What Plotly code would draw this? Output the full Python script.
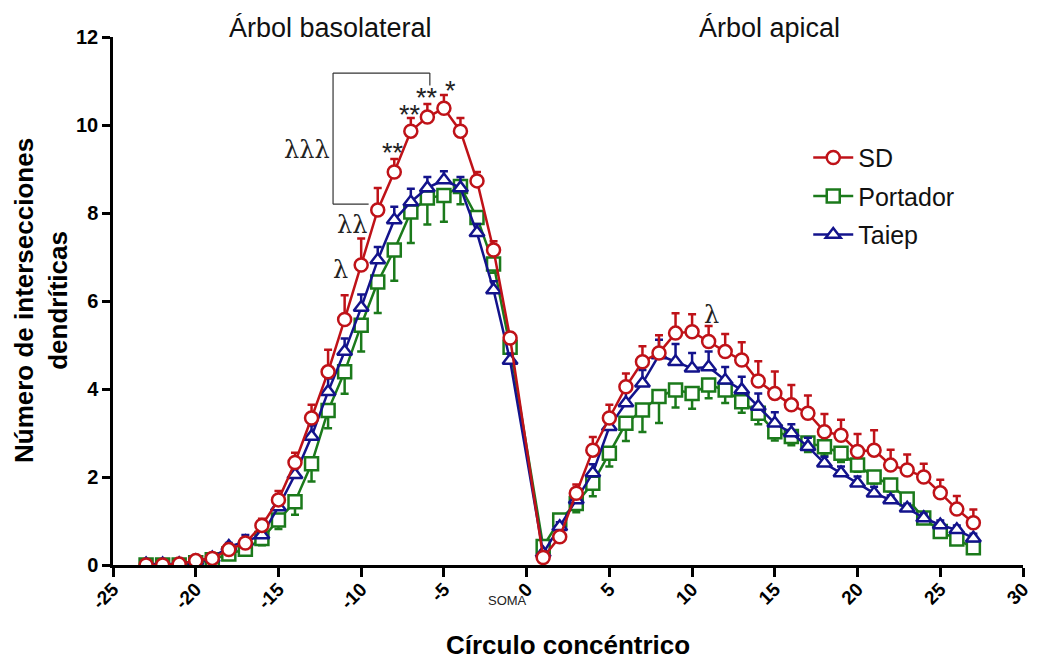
import plotly.graph_objects as go

# ---- data ----
circles = list(range(-23, 0)) + list(range(1, 28))

sd = [0.0, 0.0, 0.02, 0.1, 0.15, 0.35, 0.5, 0.9, 1.48, 2.33, 3.34, 4.39, 5.58, 6.82, 8.07, 8.93, 9.86, 10.18, 10.38, 9.86, 8.73, 7.16, 5.16,
      0.17, 0.64, 1.63, 2.61, 3.34, 4.05, 4.62, 4.82, 5.27, 5.3, 5.08, 4.85, 4.66, 4.18, 3.9, 3.64, 3.45, 3.03, 2.95, 2.58, 2.61, 2.27, 2.16, 2.0, 1.64, 1.27, 0.96]
sd_err = [0.0, 0.0, 0.02, 0.05, 0.05, 0.1, 0.1, 0.15, 0.2, 0.22, 0.3, 0.5, 0.55, 0.6, 0.5, 0.3, 0.3, 0.3, 0.3, 0.3, 0.2, 0.2, 0.12,
          0.05, 0.1, 0.2, 0.3, 0.3, 0.3, 0.35, 0.4, 0.45, 0.4, 0.35, 0.4, 0.4, 0.45, 0.5, 0.45, 0.4, 0.4, 0.35, 0.4, 0.45, 0.35, 0.35, 0.3, 0.3, 0.3, 0.3]

portador = [0.0, 0.0, 0.0, 0.05, 0.12, 0.25, 0.36, 0.6, 1.02, 1.44, 2.3, 3.51, 4.39, 5.45, 6.43, 7.16, 8.02, 8.34, 8.4, 8.6, 7.9, 6.84, 4.95,
            0.42, 1.02, 1.4, 1.86, 2.54, 3.22, 3.52, 3.83, 3.98, 3.9, 4.09, 3.98, 3.71, 3.45, 3.03, 2.92, 2.77, 2.69, 2.54, 2.27, 2.0, 1.82, 1.5, 1.07, 0.76, 0.59, 0.39]
portador_err = [0.0, 0.0, 0.0, 0.03, 0.05, 0.08, 0.1, 0.15, 0.2, 0.3, 0.4, 0.4, 0.5, 0.6, 0.7, 0.7, 0.7, 0.6, 0.6, 0.4, 0.3, 0.2, 0.15,
                0.05, 0.1, 0.2, 0.3, 0.3, 0.4, 0.5, 0.6, 0.4, 0.35, 0.3, 0.3, 0.25, 0.25, 0.2, 0.2, 0.2, 0.2, 0.2, 0.15, 0.15, 0.15, 0.12, 0.1, 0.1, 0.1, 0.1]

taiep = [0.02, 0.02, 0.03, 0.09, 0.16, 0.42, 0.53, 0.68, 1.32, 2.05, 2.92, 3.94, 4.85, 5.85, 6.93, 7.84, 8.25, 8.57, 8.75, 8.57, 7.55, 6.25, 4.65,
         0.27, 0.87, 1.48, 2.09, 3.14, 3.68, 4.13, 4.77, 4.62, 4.47, 4.5, 4.2, 3.98, 3.6, 3.22, 3.0, 2.69, 2.31, 2.09, 1.86, 1.63, 1.48, 1.29, 1.07, 0.91, 0.8, 0.61]
taiep_err = [0.0, 0.0, 0.0, 0.03, 0.05, 0.08, 0.15, 0.12, 0.2, 0.2, 0.25, 0.3, 0.3, 0.3, 0.3, 0.3, 0.3, 0.25, 0.2, 0.25, 0.2, 0.2, 0.15,
             0.05, 0.1, 0.15, 0.2, 0.25, 0.3, 0.3, 0.35, 0.4, 0.35, 0.35, 0.3, 0.3, 0.3, 0.25, 0.2, 0.2, 0.15, 0.15, 0.15, 0.15, 0.1, 0.1, 0.1, 0.1, 0.1, 0.1]

x_ticks = [-25, -20, -15, -10, -5, 0, 5, 10, 15, 20, 25, 30]
y_ticks = [0, 2, 4, 6, 8, 10, 12]

RED = "#bf1218"
GREEN = "#1b7a1b"
BLUE = "#13138c"

FONT = "Liberation Sans, Arial, sans-serif"

fig = go.Figure()

def add_series(name, y, err, color, symbol, up, rank):
    zeros = [0] * len(err)
    fig.add_trace(go.Scatter(
        x=circles, y=y, name=name, mode="lines+markers",
        legendgroup=name,
        line=dict(color=color, width=2.5),
        marker=dict(symbol=symbol, size=13, color="white",
                    line=dict(color=color, width=2.5)),
        error_y=dict(type="data", symmetric=False,
                     array=err if up else zeros,
                     arrayminus=zeros if up else err,
                     color=color, thickness=2.5, width=4),
        legendrank=rank,
    ))

add_series("Portador", portador, portador_err, GREEN, "square", False, 2)
add_series("Taiep", taiep, taiep_err, BLUE, "triangle-up", True, 3)
add_series("SD", sd, sd_err, RED, "circle", True, 1)

# bracket
bx_left, bx_right, bx_short = -11.7, -5.85, -9.55
by_top, by_tick, by_bottom = 11.18, 10.9, 8.2
line_style = dict(color="#333333", width=1.2)
fig.add_shape(type="line", x0=bx_left, x1=bx_right, y0=by_top, y1=by_top, line=line_style)
fig.add_shape(type="line", x0=bx_right, x1=bx_right, y0=by_top, y1=by_tick, line=line_style)
fig.add_shape(type="line", x0=bx_left, x1=bx_left, y0=by_top, y1=by_bottom, line=line_style)
fig.add_shape(type="line", x0=bx_left, x1=bx_short, y0=by_bottom, y1=by_bottom, line=line_style)

annots = [
    dict(x=-8.08, y=9.36, text="**", size=27),
    dict(x=-7.05, y=10.23, text="**", size=27),
    dict(x=-6.03, y=10.62, text="**", size=27),
    dict(x=-4.6, y=10.78, text="*", size=27),
    dict(x=-13.3, y=9.43, text="λλλ", size=24),
    dict(x=-10.56, y=7.73, text="λλ", size=24),
    dict(x=-11.28, y=6.7, text="λ", size=24),
    dict(x=11.19, y=5.68, text="λ", size=24),
]
for a in annots:
    fig.add_annotation(x=a["x"], y=a["y"], text=a["text"], showarrow=False,
                       font=dict(family="DejaVu Serif, serif" if "λ" in a["text"] else FONT,
                                 size=a["size"], color="#222222"))

fig.add_annotation(x=-11.85, y=1.0, yref="paper", yshift=9, yanchor="middle",
                   text="Árbol basolateral", showarrow=False,
                   font=dict(family=FONT, size=27, color="#111111"))
fig.add_annotation(x=14.7, y=1.0, yref="paper", yshift=9, yanchor="middle",
                   text="Árbol apical", showarrow=False,
                   font=dict(family=FONT, size=27, color="#111111"))
fig.add_annotation(x=-1.15, y=0, xref="x", yref="paper", yshift=-35, yanchor="middle",
                   text="SOMA", showarrow=False,
                   font=dict(family=FONT, size=13, color="#222222"))

# axis titles as annotations (exact placement)
fig.add_annotation(x=0.5, xref="paper", xanchor="center", y=0, yref="paper", yshift=-80,
                   yanchor="middle",
                   text="Círculo concéntrico", showarrow=False,
                   font=dict(family=FONT, size=26, color="black", weight="bold"))
fig.add_annotation(x=0, xref="paper", xanchor="center", xshift=-72, y=0.5, yref="paper",
                   text="Número de intersecciones<br>dendríticas", showarrow=False,
                   textangle=-90,
                   font=dict(family=FONT, size=26, color="black", weight="bold"))

fig.update_xaxes(range=[-25, 30], tickvals=x_ticks, ticktext=[str(v) for v in x_ticks],
                 tickangle=-45, showgrid=False, zeroline=False, automargin=False,
                 showline=True, linecolor="black", linewidth=2.5,
                 ticks="outside", ticklen=9, tickwidth=2.5, tickcolor="black",
                 ticklabelstandoff=-6,
                 tickfont=dict(family=FONT, size=19, color="black", weight="bold"))
fig.update_yaxes(range=[0, 12], tickvals=y_ticks, showgrid=False, zeroline=False, automargin=False,
                 showline=True, linecolor="black", linewidth=2.5,
                 ticks="outside", ticklen=8, tickwidth=2.5, tickcolor="black",
                 tickfont=dict(family=FONT, size=20, color="black", weight="bold"))

# page body has an 8px margin: figure is sized to fit inside the 1039x660 window
fig.update_layout(
    width=1031, height=652,
    margin=dict(l=105, r=16, t=29, b=95),
    plot_bgcolor="white", paper_bgcolor="white",
    showlegend=True,
    legend=dict(x=0.764, y=0.815, xanchor="left", yanchor="top",
                font=dict(family=FONT, size=25, color="#111111"),
                bgcolor="rgba(0,0,0,0)", tracegroupgap=3, itemwidth=40),
)

fig.write_html("out.html")
